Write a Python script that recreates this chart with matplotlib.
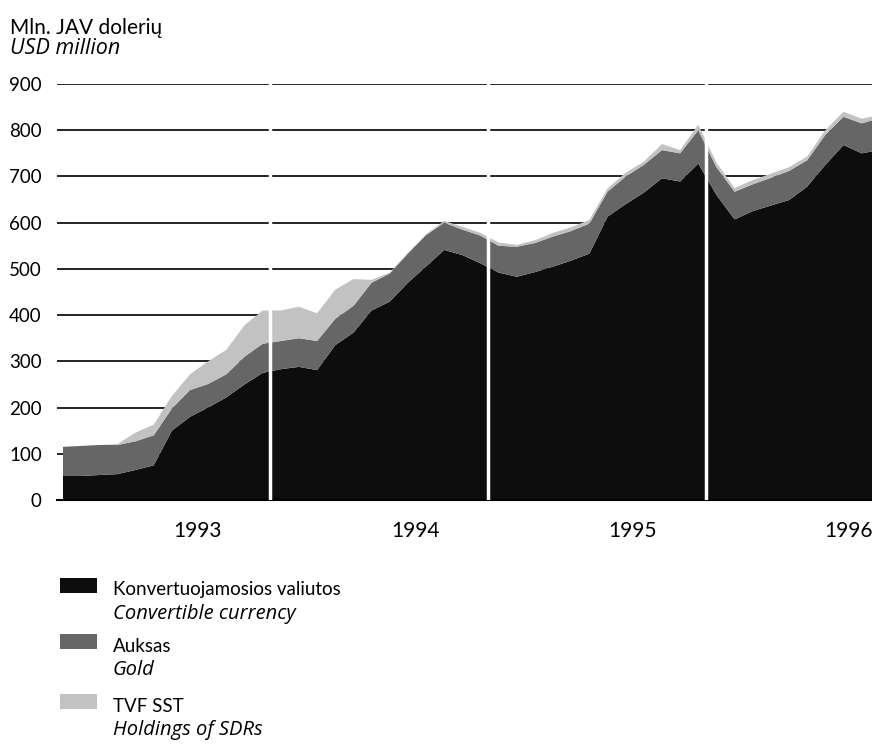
import matplotlib
matplotlib.use("Agg")
import matplotlib.pyplot as plt
from matplotlib.patches import Rectangle

plt.rcParams['font.family'] = ['Lato', 'DejaVu Sans']
ITALIC = ['Open Sans', 'DejaVu Sans']

# monthly data, Jan 1993 .. Oct 1996 (mln. USD)
months = list(range(46))
convertible = [52, 52, 54, 56, 65, 75, 150, 180, 200, 222, 250, 275,
               283, 288, 281, 335, 362, 410, 429, 470, 505, 541, 530, 512,
               492, 483, 493, 505, 518, 533, 613, 640, 665, 696, 689, 728,
               660, 607, 625, 637, 649, 678, 725, 768, 750, 757]
gold = [63, 65, 65, 63, 62, 65, 48, 58, 51, 50, 60, 63,
        61, 62, 63, 57, 58, 60, 61, 63, 68, 59, 55, 60,
        58, 65, 63, 65, 64, 65, 54, 60, 60, 61, 61, 72,
        60, 60, 58, 60, 63, 57, 65, 61, 65, 69]
sdr = [0, 0, 0, 2, 19, 23, 27, 34, 49, 53, 68, 72,
       66, 68, 60, 63, 58, 6, 2, 2, 2, 4, 6, 6,
       7, 4, 6, 8, 8, 8, 7, 8, 7, 13, 7, 12,
       10, 8, 9, 9, 8, 8, 10, 11, 10, 7]

years = ['1993', '1994', '1995', '1996']
year_pos = [7.4, 19.4, 31.4, 43.3]
separators = [11.4, 23.4, 35.4]

colors = ['#0d0d0d', '#666666', '#c2c2c2']

fig = plt.figure(figsize=(8.72, 7.47), dpi=100)
ax = fig.add_axes([57 / 872, 1 - 500 / 747, (872 - 57) / 872, (500 - 84) / 747])

ax.stackplot(months, convertible, gold, sdr, colors=colors, linewidth=0, zorder=2)

ax.set_ylim(0, 900)
ax.set_xlim(-0.33, 44.57)
ax.set_yticks(range(0, 1000, 100))
ax.yaxis.grid(True, color='black', linewidth=1.2, zorder=1)
ax.set_axisbelow(True)
ax.tick_params(axis='y', length=0, pad=11, labelsize=13.5)
ax.set_xticks(year_pos)
ax.set_xticklabels(years)
ax.tick_params(axis='x', length=0, pad=15, labelsize=15)
for s in ax.spines.values():
    s.set_visible(False)
ax.axhline(0, color='black', linewidth=1.5, zorder=3, clip_on=False)

for x in separators:
    ax.axvline(x, color='white', linewidth=2.5, zorder=4)

fig.text(10 / 872, 1 - 28 / 747, 'Mln. JAV dolerių', fontsize=15, va='center')
fig.text(10 / 872, 1 - 49 / 747, 'USD million', fontsize=15.5, style='italic',
         family=ITALIC, va='center')

legend_items = [('Konvertuojamosios valiutos', 'Convertible currency', 590),
                ('Auksas', 'Gold', 646),
                ('TVF SST', 'Holdings of SDRs', 706)]
for (lt, en, yc), c in zip(legend_items, colors):
    fig.patches.append(Rectangle((60 / 872, 1 - (yc + 3) / 747), 37 / 872, 15 / 747,
                                 transform=fig.transFigure, facecolor=c, edgecolor='none'))
    fig.text(113 / 872, 1 - yc / 747, lt, fontsize=13.5, va='center')
    fig.text(113 / 872, 1 - (yc + 24) / 747, en, fontsize=14.5, style='italic',
             family=ITALIC, va='center')

fig.savefig('out.png', dpi=100)
